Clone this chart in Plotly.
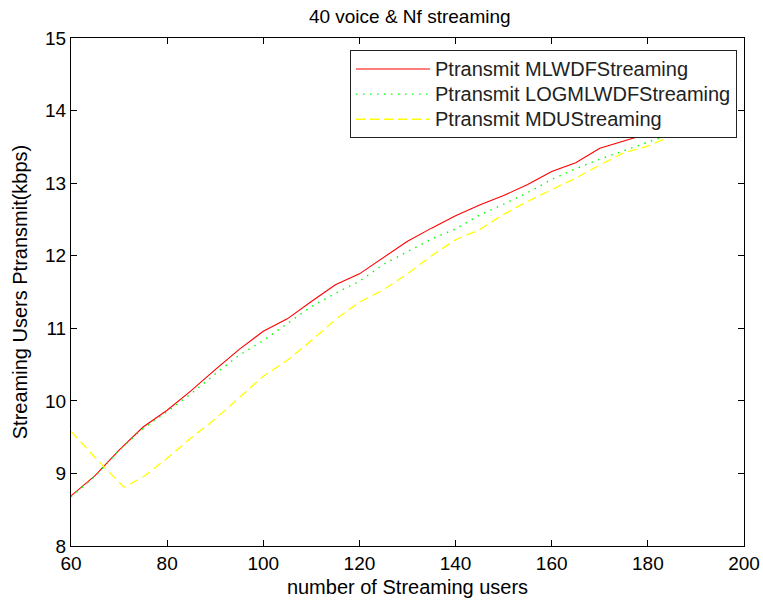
import plotly.graph_objects as go

# Data
x_main = [60, 65, 70, 75, 80, 85, 90, 95, 100, 105, 110, 115, 120, 125, 130,
          135, 140, 145, 150, 155, 160, 165, 170, 175, 180, 185, 190]
mlwdf = [8.69, 8.97, 9.32, 9.64, 9.87, 10.14, 10.43, 10.71, 10.96, 11.13, 11.37,
         11.60, 11.75, 11.98, 12.20, 12.38, 12.55, 12.70, 12.83, 12.98, 13.16,
         13.28, 13.48, 13.58, 13.68, 13.82, 13.96]
logmlwdf = [8.68, 8.96, 9.32, 9.62, 9.85, 10.10, 10.37, 10.63, 10.83, 11.06, 11.30,
            11.48, 11.65, 11.88, 12.05, 12.23, 12.37, 12.56, 12.71, 12.87, 13.05,
            13.20, 13.33, 13.45, 13.56, 13.68, 13.82]
x_mdu = [60, 65, 71, 75, 80, 85, 90, 95, 100, 105, 110, 115, 120, 125, 130,
         135, 140, 145, 150, 155, 160, 165, 170, 175, 180, 185, 190]
mdu = [9.58, 9.22, 8.81, 8.95, 9.21, 9.49, 9.75, 10.05, 10.34, 10.56, 10.83,
       11.12, 11.36, 11.53, 11.75, 12.00, 12.22, 12.36, 12.57, 12.75, 12.91,
       13.07, 13.25, 13.42, 13.51, 13.65, 13.80]

series_names = ["Ptransmit MLWDFStreaming", "Ptransmit LOGMLWDFStreaming",
                "Ptransmit MDUStreaming"]

x_ticks = [60, 80, 100, 120, 140, 160, 180, 200]
y_ticks = [8, 9, 10, 11, 12, 13, 14, 15]

FONT = "Liberation Sans, Arial, sans-serif"
BLACK = "#000000"


def legend_label(s):
    return "<span style='font-size:20px'>" + s + "</span>"


fig = go.Figure()
fig.add_trace(go.Scatter(x=x_main, y=mlwdf, mode="lines",
                         name=legend_label(series_names[0]),
                         line=dict(color="#FF0000", width=1.1)))
fig.add_trace(go.Scatter(x=x_main, y=logmlwdf, mode="lines",
                         name=legend_label(series_names[1]),
                         line=dict(color="#00FF00", width=1.4, dash="1.5px,5.5px")))
fig.add_trace(go.Scatter(x=x_mdu, y=mdu, mode="lines",
                         name=legend_label(series_names[2]),
                         line=dict(color="#FFFF00", width=1.3, dash="9px,5px")))

axis_common = dict(showline=True, linecolor=BLACK, linewidth=1, mirror="ticks",
                   ticks="inside", ticklen=6, tickcolor=BLACK, showgrid=False,
                   zeroline=False, automargin=False,
                   tickfont=dict(family=FONT, size=19, color=BLACK))

fig.update_layout(
    width=763, height=601,
    margin=dict(l=71, r=19, t=38, b=55, pad=0),
    paper_bgcolor="white", plot_bgcolor="white",
    title=dict(text="40 voice & Nf streaming", x=0.537, xanchor="center", y=0.972,
               yanchor="middle", font=dict(family=FONT, size=19, color=BLACK)),
    xaxis=dict(range=[60, 200], tickvals=x_ticks, ticktext=[str(v) for v in x_ticks],
               title=dict(text="number of Streaming users", standoff=7,
                          font=dict(family=FONT, size=20, color=BLACK)),
               **axis_common),
    yaxis=dict(range=[8, 15], tickvals=y_ticks, ticktext=[str(v) for v in y_ticks],
               title=dict(text="Streaming Users Ptransmit(kbps)", standoff=12,
                          font=dict(family=FONT, size=20, color=BLACK)),
               **axis_common),
    legend=dict(x=0.9896, xanchor="right", y=0.9754, yanchor="top",
                bgcolor="white", bordercolor="#222222", borderwidth=1,
                font=dict(family=FONT, size=17, color="#222222"),
                tracegroupgap=0, itemwidth=74),
    showlegend=True,
)

fig.write_html("out.html")
